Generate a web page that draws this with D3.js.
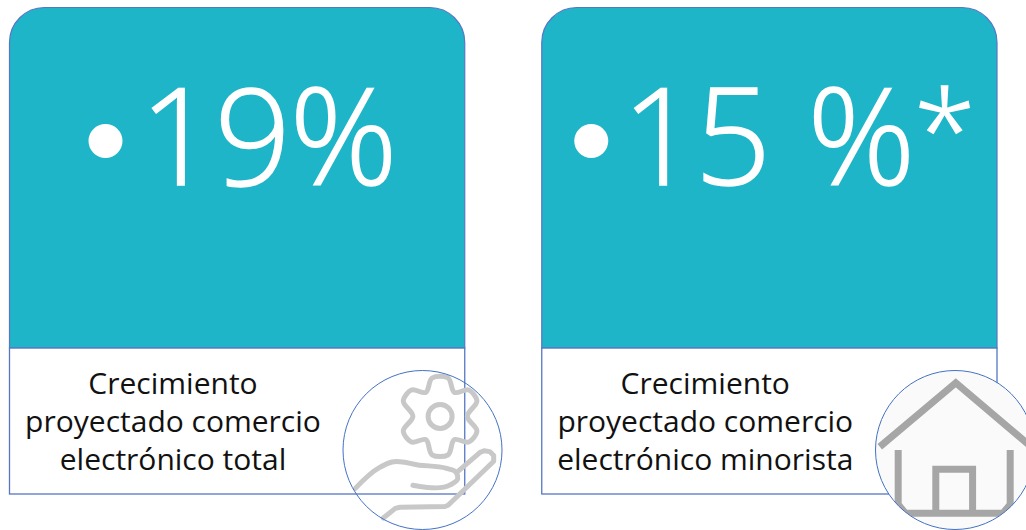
<!DOCTYPE html>
<html>

<head>
    <meta charset='utf-8' />
    <title>Crecimiento proyectado</title>
    <script src="https://d3js.org/d3.v7.min.js"></script>
    <style>
        html, body { margin: 0; padding: 0; background: #fff; overflow: hidden; }
        svg { display: block; }
        text { font-family: "Open Sans", "Noto Sans", sans-serif; }
    </style>
</head>

<body>
    <svg width="1026" height="530"></svg>
    <script>
        // what the two cards say
        var cardIds = ["total", "minorista"];
        var bigValues = ["19%", "15 %"];
        var bigMarks = ["", "*"];
        var labelLines = [
            ["Crecimiento", "proyectado comercio", "electrónico total"],
            ["Crecimiento", "proyectado comercio", "electrónico minorista"]
        ];

        // icon outlines, in a 0-100 box fitted to the circle
        var handUpper = [[8, 74], [23, 61], [31, 57.5], [48, 59.5], [65, 61.5], [71, 64], [72, 68], [67, 72], [44, 72]];
        var handLower = [[25.5, 92.5], [33, 86.5], [36, 85.8], [64, 85.3], [66, 84.5], [94.5, 57], [94.5, 53.5], [92, 51], [88.5, 50.5], [86, 51.5], [72, 63.5]];
        var gearOuter = [[56, 5], [66, 5], [70, 14], [79, 12.5], [84, 19], [78, 29], [84, 38.5], [79, 45], [70, 43.5], [66, 53], [56, 53], [52, 43.5], [43, 45], [38, 38.5], [44, 29], [38, 19], [43, 12.5], [52, 14]];
        var houseRoof = [[3, 48], [50.5, 8], [100, 50]];
        var houseFloor = [[14.5, 50], [14.5, 84], [19, 89.5], [80, 89.5], [84.5, 84], [84.5, 50]];
        var houseDoor = [[38, 89.5], [38, 62], [61, 62], [61, 89.5]];

        var svg = d3.select("svg");

        var cardX = d3.scaleBand().domain(cardIds).range([9.5, 997]).paddingInner(0.1447);
        var cardY = d3.scaleLinear().domain([0, 1]).range([7.5, 494]);
        var splitY = cardY(0.7);
        var corner = 35;
        var borderColor = "#5677c4";
        var teal = "#1fb5c8";

        var defs = svg.append("defs");

        var cards = svg.selectAll("g.card")
            .data(cardIds)
            .enter().append("g")
            .attr("class", "card");

        // top panel with rounded corners
        cards.append("path")
            .attr("d", function (d) {
                var x0 = cardX(d), x1 = x0 + cardX.bandwidth(), y0 = cardY(0);
                var p = d3.path();
                p.moveTo(x0, splitY);
                p.lineTo(x0, y0 + corner);
                p.arcTo(x0, y0, x0 + corner, y0, corner);
                p.lineTo(x1 - corner, y0);
                p.arcTo(x1, y0, x1, y0 + corner, corner);
                p.lineTo(x1, splitY);
                p.closePath();
                return p.toString();
            })
            .attr("fill", teal)
            .attr("stroke", borderColor)
            .attr("stroke-width", 1.2);

        // lower white panel
        cards.append("rect")
            .attr("x", function (d) { return cardX(d); })
            .attr("y", splitY)
            .attr("width", cardX.bandwidth())
            .attr("height", cardY(1) - splitY)
            .attr("fill", "#fff")
            .attr("stroke", borderColor)
            .attr("stroke-width", 1.3);

        // bullet and the big number
        cards.append("circle")
            .attr("cx", function (d, i) { return cardX(d) + (i == 0 ? 96 : 49.5); })
            .attr("cy", 141)
            .attr("r", 17)
            .attr("fill", "#fff");

        var big = cards.append("text")
            .attr("x", function (d, i) { return cardX(d) + (i == 0 ? 130 : 80); })
            .attr("y", 185)
            .attr("font-size", 134)
            .attr("font-weight", 300)
            .attr("letter-spacing", function (d, i) { return i == 0 ? -1.5 : -3.4; })
            .attr("word-spacing", function (d, i) { return i == 0 ? 0 : 8; })
            .attr("fill", "#fff")
            .attr("stroke", "#fff")
            .attr("stroke-width", 1.5)
            .text(function (d, i) { return bigValues[i]; });

        // the asterisk is a bit smaller than in the fallback font
        big.append("tspan")
            .attr("font-size", 112)
            .attr("dx", 2)
            .attr("dy", -13)
            .text(function (d, i) { return bigMarks[i]; });

        // three line caption
        cards.each(function (d, i) {
            var g = d3.select(this);
            var cx = cardX(d) + 163.5;
            g.selectAll("text.label")
                .data(labelLines[i])
                .enter().append("text")
                .attr("class", "label")
                .attr("x", cx)
                .attr("y", function (t, j) { return 394 + j * 38; })
                .attr("text-anchor", "middle")
                .attr("font-size", 30)
                .attr("fill", "#111")
                .text(function (t) { return t; });
        });

        // icon circles
        var iconSize = 160;
        var iconCx = [422.5, 955];
        var iconCy = 450;
        var radius = iconSize / 2 - 0.5;

        var xIcon = iconCx.map(function (c) {
            return d3.scaleLinear().domain([0, 100]).range([c - iconSize / 2, c + iconSize / 2]);
        });
        var yIcon = d3.scaleLinear().domain([0, 100]).range([iconCy - iconSize / 2, iconCy + iconSize / 2]);

        function iconLine(i, curve) {
            return d3.line()
                .x(function (p) { return xIcon[i](p[0]); })
                .y(function (p) { return yIcon(p[1]); })
                .curve(curve);
        }

        defs.append("clipPath").attr("id", "clip-house")
            .append("circle").attr("cx", iconCx[1]).attr("cy", iconCy).attr("r", radius);

        // left icon: hand holding a gear (circle is see-through)
        var left = svg.append("g")
            .attr("fill", "none")
            .attr("stroke", "#c8c8c8")
            .attr("stroke-width", 5)
            .attr("stroke-linecap", "round")
            .attr("stroke-linejoin", "round");

        left.append("path").attr("d", iconLine(0, d3.curveCatmullRomClosed.alpha(1))(gearOuter));
        left.append("circle")
            .attr("cx", xIcon[0](61))
            .attr("cy", yIcon(29))
            .attr("r", 12);
        left.append("path").attr("d", iconLine(0, d3.curveCatmullRom.alpha(1))(handUpper));
        left.append("path").attr("d", iconLine(0, d3.curveLinear)(handLower));

        svg.append("circle")
            .attr("cx", iconCx[0])
            .attr("cy", iconCy)
            .attr("r", radius)
            .attr("fill", "none")
            .attr("stroke", "#4472c4")
            .attr("stroke-width", 1);

        // right icon: house (opaque circle hides the card border)
        svg.append("circle")
            .attr("cx", iconCx[1])
            .attr("cy", iconCy)
            .attr("r", radius)
            .attr("fill", "#fafafa");

        var right = svg.append("g")
            .attr("clip-path", "url(#clip-house)")
            .attr("fill", "none")
            .attr("stroke", "#a6a6a6")
            .attr("stroke-width", 7);

        right.append("path").attr("d", iconLine(1, d3.curveLinear)(houseRoof));
        right.append("path").attr("d", iconLine(1, d3.curveLinear)(houseFloor));
        right.append("path").attr("d", iconLine(1, d3.curveLinear)(houseDoor));

        svg.append("circle")
            .attr("cx", iconCx[1])
            .attr("cy", iconCy)
            .attr("r", radius)
            .attr("fill", "none")
            .attr("stroke", "#4472c4")
            .attr("stroke-width", 1);
    </script>
</body>

</html>
